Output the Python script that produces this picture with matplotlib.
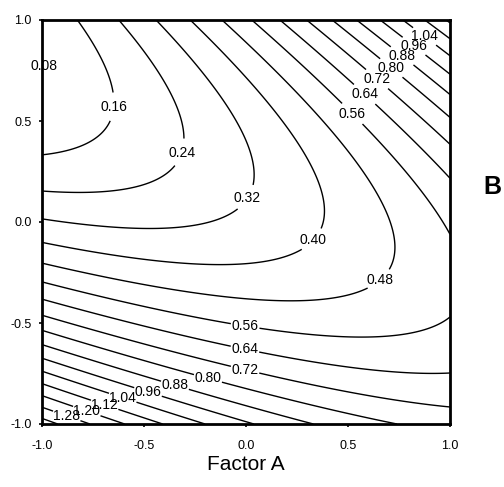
import numpy as np
import matplotlib
matplotlib.use("Agg")
import matplotlib.pyplot as plt

# response surface coefficients (coded factors A, B)
terms = ["const", "A", "B", "A^2", "B^2", "AB"]
coefs = [0.338, 0.121, -0.214, 0.113, 0.42, 0.437]
levels = [0.08, 0.16, 0.24, 0.32, 0.40, 0.48, 0.56, 0.64, 0.72, 0.80,
          0.88, 0.96, 1.04, 1.12, 1.20, 1.28, 1.36]
ticks = [-1.0, -0.5, 0.0, 0.5, 1.0]
tick_labels = ["-1.0", "-0.5", "0.0", "0.5", "1.0"]

plt.rcParams['font.family'] = ['Liberation Sans', 'DejaVu Sans']

a = np.linspace(-1, 1, 301)
b = np.linspace(-1, 1, 301)
A, B = np.meshgrid(a, b)
c = dict(zip(terms, coefs))
Z = (c["const"] + c["A"] * A + c["B"] * B + c["A^2"] * A**2
     + c["B^2"] * B**2 + c["AB"] * A * B)

fig = plt.figure(figsize=(5.04, 4.87), dpi=100)
ax = fig.add_axes([42 / 504, 1 - 424 / 487, 408 / 504, 404 / 487])

cs = ax.contour(A, B, Z, levels=levels, colors='black', linewidths=1.0)

# where the labels sit in the reference
label_pos = [(-0.995, 0.77), (-0.65, 0.57), (-0.314, 0.342), (0.02, 0.109),
             (0.353, -0.114), (0.696, -0.337), (0.525, 0.54), (0.583, 0.634),
             (0.647, 0.713), (0.716, 0.767), (0.765, 0.822), (0.828, 0.876),
             (0.877, 0.921), (-0.005, -0.52), (-0.005, -0.629), (-0.005, -0.733),
             (-0.186, -0.772), (-0.348, -0.807), (-0.48, -0.84), (-0.603, -0.866),
             (-0.69, -0.896), (-0.775, -0.92), (-0.877, -0.955)]
lbls = ax.clabel(cs, fmt='%.2f', fontsize=10, manual=label_pos,
                 inline=True, inline_spacing=1)
for t in lbls:
    t.set_rotation(0)
    t.set_clip_on(False)

ax.set_xlim(-1, 1)
ax.set_ylim(-1, 1)
ax.set_xticks(ticks)
ax.set_xticklabels(tick_labels)
ax.set_yticks(ticks)
ax.set_yticklabels(tick_labels)
ax.tick_params(direction='out', length=2.5, width=1.2, labelsize=9)
ax.tick_params(axis='x', pad=9)
ax.tick_params(axis='y', pad=5)
for s in ax.spines.values():
    s.set_linewidth(2.0)

fig.text(246 / 504, 1 - 464 / 487, "Factor A", ha='center', va='center',
         fontsize=15)
fig.text(492 / 504, 1 - 187 / 487, "B", ha='center', va='center',
         fontsize=18, fontweight='bold')

fig.savefig("out.png", dpi=100)
